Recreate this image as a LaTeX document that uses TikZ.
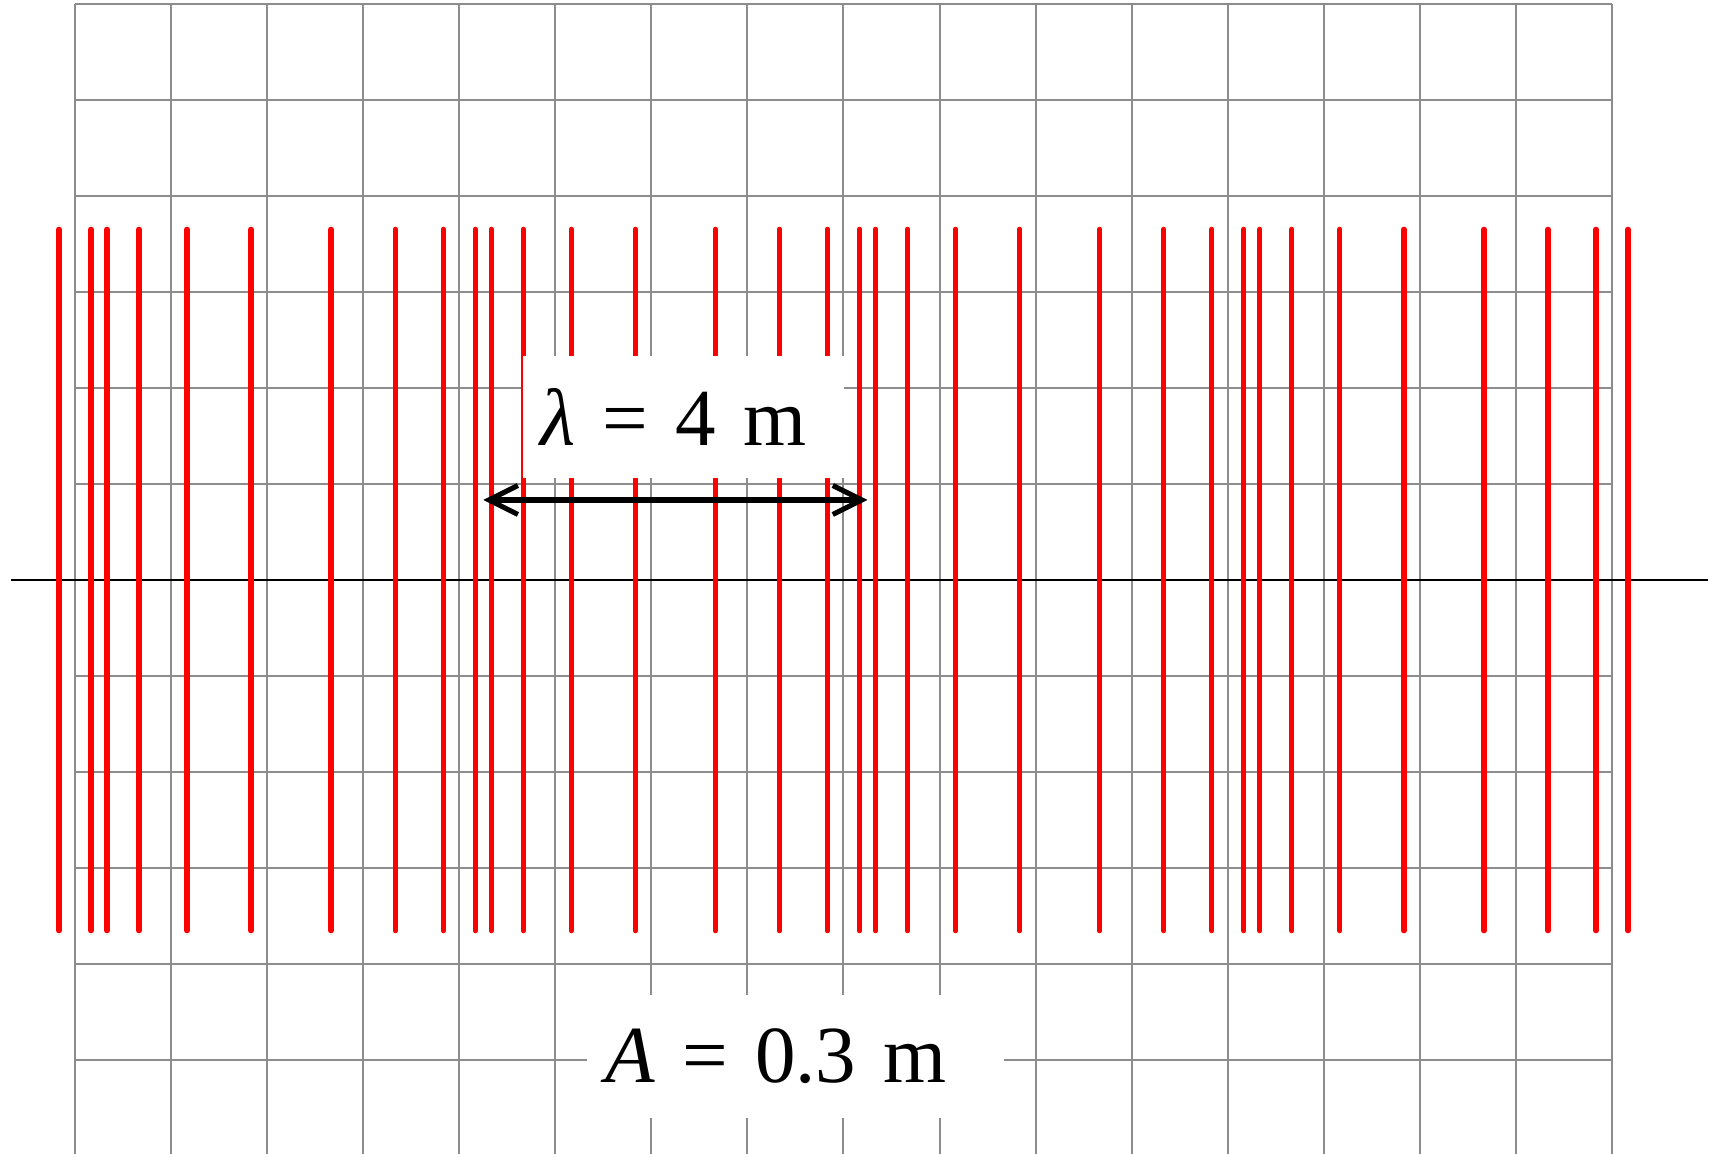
\documentclass[tikz,border=0pt]{standalone}
\usepackage{fontspec}
\setmainfont{Liberation Serif}
\usetikzlibrary{arrows.meta}

\begin{document}
\begin{tikzpicture}[
    every node/.style={font=\fontsize{24}{29}\selectfont},
    gridline/.style={draw=gray!90, line width=0.6pt},
    axisline/.style={draw=black, line width=0.45pt},
    ray/.style={draw=red, line width=1.6pt, line cap=round},
    labelbox/.style={fill=white, inner ysep=0pt, align=left},
    dimarrow/.style={{Straight Barb[length=8.6pt, width=8.6pt]}-{Straight Barb[length=8.6pt, width=8.6pt]}, line width=1.5pt}
]
    \useasboundingbox (-0.781,-5.975) rectangle (17.073,6.038);

    % grid and axis
    \draw[gridline, step=1] (0,-5.975) grid (16,6);
    \coordinate (axL) at (-0.67,0);
    \coordinate (axR) at (17,0);
    \draw[axisline] (axL) -- (axR);

    % particle positions
    \foreach \p in {0,4,8,12}
        \foreach \o in {0.1667,0.3333,0.6667,1.1667,1.8333,2.6667,3.3333,3.8333}
            \draw[ray] ({\p+\o},-3.65) -- ({\p+\o},3.65);
    \foreach \x in {-0.1667,16.1667}
        \draw[ray] (\x,-3.65) -- (\x,3.65);

    \node (lambda) [labelbox, inner xsep=0.19cm, text width=2.97cm, minimum height=1.27cm] at (6.335,1.70) {{\itshape λ} = 4 m};
    \node (amp) [labelbox, inner xsep=0.2cm, text width=3.945cm, minimum height=1.284cm] at (7.5,-4.96) {{\itshape A} = 0.3 m};

    \coordinate (lamL) at (4.25,0.833);
    \coordinate (lamR) at (8.25,0.833);
    \draw[dimarrow] (lamL) -- (lamR);
\end{tikzpicture}
\end{document}
